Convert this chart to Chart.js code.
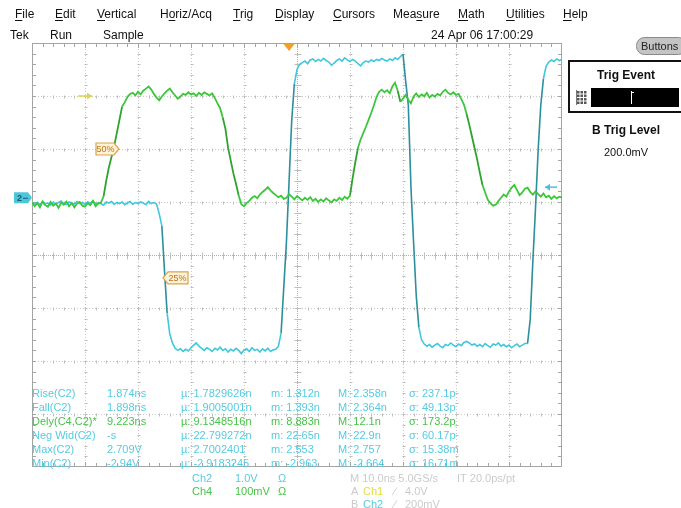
<!DOCTYPE html>
<html><head><meta charset="utf-8">
<script src="https://cdn.jsdelivr.net/npm/chart.js@4/dist/chart.umd.min.js"></script>
<style>html,body{margin:0;padding:0;background:#fff;overflow:hidden}canvas{display:block}</style>
</head><body>
<canvas id="scope" width="681" height="508"></canvas>
<script>
// Acquisition record: one sample every 0.5 ns, 10 ns/div over 10 divisions
const sampleInterval = 0.5;   // ns
const timeSpan = 100;         // ns across the graticule
const triggerTime = 48.5;     // ns, trigger position

// Ch2 at 1.0 V/div, in volts
const ch2Volts = [
  -0.08,-0.12,-0.09,-0.13,-0.07,-0.11,-0.10,-0.14,-0.08,-0.12,
  -0.09,-0.06,-0.11,-0.13,-0.08,-0.10,-0.12,-0.07,-0.11,-0.09,
  -0.13,-0.08,-0.10,-0.06,-0.12,-0.09,-0.11,-0.14,-0.08,-0.10,
  -0.07,-0.12,-0.09,-0.11,-0.08,-0.13,-0.10,-0.07,-0.12,-0.09,
  -0.11,-0.08,-0.10,-0.13,-0.07,-0.11,-0.09,-0.12,
  -0.30,-0.53,-1.38,-2.18,-2.57,-2.74,-2.84,
  -2.88,-2.85,-2.90,-2.86,-2.89,-2.83,-2.78,-2.74,-2.80,-2.84,
  -2.88,-2.83,-2.86,-2.90,-2.84,-2.87,-2.82,-2.88,-2.85,-2.91,
  -2.86,-2.89,-2.84,-2.88,-2.94,-2.87,-2.85,-2.90,-2.83,-2.88,
  -2.86,-2.91,-2.85,-2.89,-2.84,-2.90,-2.87,-2.86,
  -2.80,-2.55,-1.70,-0.85,0.30,1.45,2.15,2.42,2.52,
  2.55,2.58,2.53,2.60,2.62,2.57,2.61,2.58,2.63,2.59,
  2.56,2.50,2.54,2.59,2.62,2.58,2.64,2.60,2.57,2.61,
  2.58,2.53,2.49,2.55,2.58,2.56,2.60,2.57,2.61,2.59,
  2.63,2.60,2.58,2.62,2.59,2.64,2.61,2.66,
  2.709,
  2.20,1.75,0.20,-0.85,-1.85,-2.45,-2.68,-2.76,
  -2.80,-2.77,-2.82,-2.78,-2.75,-2.80,-2.83,-2.77,-2.79,-2.74,
  -2.78,-2.81,-2.76,-2.79,-2.73,-2.71,-2.74,-2.78,-2.76,-2.80,
  -2.77,-2.81,-2.75,-2.79,-2.82,-2.76,-2.78,-2.74,-2.80,-2.77,
  -2.81,-2.78,-2.83,-2.79,-2.76,-2.81,-2.78,-2.75,
  -2.75,-2.30,-1.20,-0.20,0.90,1.75,2.25,2.48,2.56,
  2.60,2.57,2.62,2.59,2.61
];

// Ch4 at 100 mV/div, in millivolts
const ch4mV = [
  3,-4,2,-6,5,-2,-5,4,-3,1,
  -7,3,-1,5,-4,2,-6,1,4,-3,
  -5,2,-2,6,-4,1,3,
  14,44,69,89,109,134,159,184,192,202,208,
  210,205,212,207,214,218,222,216,208,201,
  196,203,209,214,218,211,205,199,203,208,
  206,211,207,209,204,210,206,211,208,205,209,
  200,190,181,163,142,106,82,58,38,16,0,-4,
  2,6,12,15,11,18,23,27,32,26,
  21,17,13,16,10,12,19,14,9,15,
  11,7,12,8,13,6,10,4,9,5,
  11,7,3,9,6,12,8,14,10,
  16,49,79,106,122,134,146,159,172,186,202,212,216,
  211,215,209,222,229,214,193,199,206,197,
  190,203,209,202,207,204,210,201,206,203,
  208,205,212,216,210,207,211,206,208,
  198,188,170,150,128,106,84,59,36,22,
  8,2,-3,-1,6,12,18,14,24,31,
  36,27,17,22,29,31,23,18,24,19,
  14,20,13,16,10,15,11,14,12
];

// Channel settings
const ch2PerDiv = 1;        // V/div
const ch4PerDiv = 100;      // mV/div
const ch2GroundDiv = 1.08;  // Ch2 ground, divisions above centre
const ch4GroundDiv = 0.96;  // Ch4 ground, divisions above centre
const ch2TrigLevel = 0.2;   // V, B trigger level
const ch4Ref50 = 104;       // mV, 50% reference level on Ch4
const ch2Ref25 = -1.51;     // V, 25% reference level on Ch2
const ch1LevelDiv = 3.0;    // Ch1 level arrow, divisions above centre

// Measurement readout
const measNames  = ['Rise(C2)', 'Fall(C2)', 'Dely(C4,C2)*', 'Neg Wid(C2)', 'Max(C2)', 'Min(C2)'];
const measValues = ['1.874ns', '1.898ns', '9.223ns', '-s', '2.709V', '-2.94V'];
const measMean   = ['\u00b5: 1.7829626n', '\u00b5: 1.9005001n', '\u00b5: 9.1348516n', '\u00b5: 22.799272n', '\u00b5: 2.7002401', '\u00b5: -2.9183245'];
const measMin    = ['m: 1.312n', 'm: 1.393n', 'm: 8.883n', 'm: 22.65n', 'm: 2.553', 'm: -2.963'];
const measMax    = ['M: 2.358n', 'M: 2.364n', 'M: 12.1n', 'M: 22.9n', 'M: 2.757', 'M: -2.664'];
const measSigma  = ['\u03c3: 237.1p', '\u03c3: 49.13p', '\u03c3: 173.2p', '\u03c3: 60.17p', '\u03c3: 15.38m', '\u03c3: 16.71m'];
const measColors = ['cyan', 'cyan', 'green', 'cyan', 'cyan', 'cyan'];

const menuItems = ['File', 'Edit', 'Vertical', 'Horiz/Acq', 'Trig', 'Display', 'Cursors', 'Measure', 'Math', 'Utilities', 'Help'];
const menuKeys  = [0, 0, 0, 1, 0, 0, 0, 3, 0, 0, 0];
const timestamp = '24 Apr 06 17:00:29';

const FONT = '"Liberation Sans", Arial, sans-serif';
const CYAN = '#3fc8dc', CYAN_EDGE = '#2c8f9e';
const GREEN = '#3cc63a', GREEN_EDGE = '#2ea32e';
const TXT_CYAN = '#55cbe2', TXT_GREEN = '#48c248';

function toPoints(values) {
  return values.map((v, i) => ({ x: i * sampleInterval, y: v }));
}

function seg(ctx, c) { ctx.beginPath(); ctx.moveTo(c[0], c[1]); ctx.lineTo(c[2], c[3]); ctx.stroke(); }

function drawGraticule(chart) {
  const c = chart.ctx, a = chart.chartArea, xs = chart.scales.x, yd = chart.scales.yDiv;
  const xp = d => Math.round(xs.getPixelForValue(d * timeSpan / 10)) + 0.5;
  const yp = d => Math.round(yd.getPixelForValue(d)) + 0.5;
  c.save();
  c.lineWidth = 1;
  // dotted division lines
  c.strokeStyle = '#c9c9c9';
  c.setLineDash([1, 2]);
  for (let i = 1; i < 10; i++) if (i !== 5) seg(c, [xp(i), a.top, xp(i), a.bottom]);
  for (let j = -3; j <= 3; j++) if (j !== 0) seg(c, [a.left, yp(j), a.right, yp(j)]);
  // centre crosshair
  c.strokeStyle = '#b0b0b0';
  c.setLineDash([1, 1]);
  seg(c, [xp(5), a.top, xp(5), a.bottom]);
  seg(c, [a.left, yp(0), a.right, yp(0)]);
  c.setLineDash([]);
  // minor marks along division lines
  c.strokeStyle = '#bdbdbd';
  for (let i = 1; i < 10; i++) {
    const L = i === 5 ? 3 : 1;
    for (let m = -19; m <= 19; m++) { const y = yp(m / 5); seg(c, [xp(i) - L, y, xp(i) + L + 1, y]); }
  }
  for (let j = -3; j <= 3; j++) {
    const L = j === 0 ? 3 : 1;
    for (let m = 1; m < 50; m++) { const x = xp(m / 5); seg(c, [x, yp(j) - L, x, yp(j) + L + 1]); }
  }
  // frame with edge ticks
  c.strokeStyle = '#a4a4a4';
  c.strokeRect(a.left + 0.5, a.top + 0.5, a.right - a.left - 1, a.bottom - a.top - 1);
  for (let m = 1; m < 50; m++) {
    const x = xp(m / 5), L = m % 5 === 0 ? 5 : 4;
    seg(c, [x, a.top, x, a.top + L]);
    seg(c, [x, a.bottom - L, x, a.bottom]);
  }
  for (let m = -19; m <= 19; m++) {
    const y = yp(m / 5);
    seg(c, [a.left, y, a.left + 4, y]);
    seg(c, [a.right - 4, y, a.right, y]);
  }
  c.restore();
}

function tag(c, x, y, w, h, pointRight, label) {
  c.save();
  c.beginPath();
  if (pointRight) {
    c.moveTo(x, y - h / 2); c.lineTo(x + w - 5, y - h / 2); c.lineTo(x + w, y);
    c.lineTo(x + w - 5, y + h / 2); c.lineTo(x, y + h / 2);
  } else {
    c.moveTo(x + w, y - h / 2); c.lineTo(x + 5, y - h / 2); c.lineTo(x, y);
    c.lineTo(x + 5, y + h / 2); c.lineTo(x + w, y + h / 2);
  }
  c.closePath();
  c.fillStyle = '#fff2d6'; c.fill();
  c.strokeStyle = '#d9a24e'; c.lineWidth = 1.2; c.stroke();
  c.fillStyle = '#b8741c'; c.font = '9px ' + FONT; c.textBaseline = 'middle';
  c.textAlign = 'center';
  c.fillText(label, pointRight ? x + (w - 4) / 2 : x + 4 + (w - 4) / 2, y + 0.5);
  c.restore();
}

function arrow(c, x0, x1, y, color) {
  c.save();
  c.strokeStyle = color; c.fillStyle = color; c.lineWidth = 1.5;
  seg(c, [x0, y, x1, y]);
  const d = x1 > x0 ? -1 : 1;
  c.beginPath(); c.moveTo(x1, y); c.lineTo(x1 + d * 5, y - 3.5); c.lineTo(x1 + d * 5, y + 3.5); c.closePath(); c.fill();
  c.restore();
}

function drawMarkers(chart) {
  const c = chart.ctx, a = chart.chartArea, xs = chart.scales.x;
  const y2 = chart.scales.y2, y4 = chart.scales.y4, yd = chart.scales.yDiv;
  // trigger position
  const tx = xs.getPixelForValue(triggerTime);
  c.save();
  c.fillStyle = '#f0a028';
  c.beginPath(); c.moveTo(tx - 5.5, a.top + 1); c.lineTo(tx + 5.5, a.top + 1); c.lineTo(tx, a.top + 8); c.closePath(); c.fill();
  c.restore();
  // Ch1 level arrow
  arrow(c, 78, 92, yd.getPixelForValue(ch1LevelDiv), '#e2d44a');
  // reference level tags
  tag(c, 96, y4.getPixelForValue(ch4Ref50), 23, 12, true, '50%');
  tag(c, 163, y2.getPixelForValue(ch2Ref25), 25, 12, false, '25%');
  // B trigger level arrow on Ch2
  arrow(c, 557, 545, y2.getPixelForValue(ch2TrigLevel), '#4cc0e4');
  // Ch2 ground marker
  const gy = y2.getPixelForValue(0);
  c.save();
  c.fillStyle = '#4cc6da';
  c.beginPath(); c.moveTo(14, gy - 5.5); c.lineTo(28, gy - 5.5); c.lineTo(32, gy); c.lineTo(28, gy + 5.5); c.lineTo(14, gy + 5.5); c.closePath(); c.fill();
  c.fillStyle = '#1b5c68'; c.font = 'bold 9px ' + FONT; c.textBaseline = 'middle'; c.textAlign = 'left';
  c.fillText('2', 17, gy + 0.5);
  c.strokeStyle = '#1b5c68'; c.lineWidth = 1;
  seg(c, [23, gy + 0.5, 28, gy + 0.5]);
  c.restore();
}

function drawReadouts(chart) {
  const c = chart.ctx;
  c.save();
  c.font = '11px ' + FONT; c.textBaseline = 'middle'; c.textAlign = 'left';
  const cols = [32, 107, 181, 271, 338, 409];
  for (let r = 0; r < measNames.length; r++) {
    const y = 394 + r * 14;
    c.fillStyle = measColors[r] === 'green' ? TXT_GREEN : TXT_CYAN;
    [measNames[r], measValues[r], measMean[r], measMin[r], measMax[r], measSigma[r]]
      .forEach((s, k) => c.fillText(s, cols[k], y));
  }
  // channel scale readouts
  c.fillStyle = TXT_CYAN;
  c.fillText('Ch2', 192, 479); c.fillText('1.0V', 235, 479); c.fillText('\u03a9', 278, 479);
  c.fillStyle = TXT_GREEN;
  c.fillText('Ch4', 192, 492); c.fillText('100mV', 235, 492); c.fillText('\u03a9', 278, 492);
  // timebase and trigger readouts
  c.fillStyle = '#cbcbcb';
  c.fillText('M 10.0ns 5.0GS/s', 350, 479);
  c.fillText('IT 20.0ps/pt', 457, 479);
  c.fillText('A', 351, 492); c.fillText('\u2215', 394, 492); c.fillText('4.0V', 405, 492);
  c.fillText('B', 351, 505); c.fillText('\u2215', 394, 505); c.fillText('200mV', 405, 505);
  c.fillStyle = '#e4dc3c'; c.fillText('Ch1', 363, 492);
  c.fillStyle = TXT_CYAN; c.fillText('Ch2', 363, 505);
  c.restore();
}

function drawMenus(chart) {
  const c = chart.ctx;
  c.save();
  c.font = '12px ' + FONT; c.textBaseline = 'alphabetic'; c.textAlign = 'left';
  c.fillStyle = '#111'; c.strokeStyle = '#111'; c.lineWidth = 1;
  const xs = [15, 55, 97, 160, 233, 275, 333, 393, 458, 506, 563];
  menuItems.forEach((m, i) => {
    c.fillText(m, xs[i], 18);
    const k = menuKeys[i];
    const x0 = xs[i] + c.measureText(m.slice(0, k)).width;
    const w = c.measureText(m[k]).width;
    seg(c, [x0, 20.5, x0 + w, 20.5]);
  });
  c.fillText('Tek', 10, 39);
  c.fillText('Run', 50, 39);
  c.fillText('Sample', 103, 39);
  c.fillText(timestamp, 431, 39);
  c.restore();
}

function drawSidePanel(chart) {
  const c = chart.ctx;
  c.save();
  // Buttons pill
  c.fillStyle = '#c4c4c4'; c.strokeStyle = '#8a8a8a'; c.lineWidth = 1;
  c.beginPath(); c.roundRect(636.5, 37.5, 50, 17, 8); c.fill(); c.stroke();
  c.fillStyle = '#222'; c.font = '11px ' + FONT; c.textAlign = 'left'; c.textBaseline = 'middle';
  c.fillText('Buttons', 641, 46.5);
  // Trig Event box
  c.strokeStyle = '#111'; c.lineWidth = 2;
  c.strokeRect(569, 61, 116, 51);
  c.fillStyle = '#111'; c.font = 'bold 12px ' + FONT; c.textAlign = 'center';
  c.fillText('Trig Event', 626, 76);
  c.fillStyle = '#000'; c.fillRect(591, 88, 88, 19);
  // keypad icon
  c.fillStyle = '#555';
  for (let r = 0; r < 4; r++) for (let k = 0; k < 3; k++) c.fillRect(577 + k * 3.5, 91 + r * 3.5, 2.5, 2.5);
  c.fillStyle = '#777'; c.fillRect(576, 90, 1, 15);
  // text cursor
  c.strokeStyle = '#fff'; c.lineWidth = 1;
  seg(c, [631.5, 91, 631.5, 104]);
  seg(c, [631.5, 92.5, 634, 92.5]);
  // B trigger level
  c.fillStyle = '#111'; c.font = 'bold 12px ' + FONT;
  c.fillText('B Trig Level', 626, 131);
  c.font = '11px ' + FONT;
  c.fillText('200.0mV', 626, 153);
  c.restore();
}

const scopeScreen = {
  id: 'scopeScreen',
  beforeDraw(chart) {
    const c = chart.ctx;
    c.save(); c.fillStyle = '#fff'; c.fillRect(0, 0, chart.width, chart.height); c.restore();
  },
  beforeDatasetsDraw(chart) { drawGraticule(chart); },
  afterDraw(chart) {
    drawMarkers(chart);
    drawReadouts(chart);
    drawMenus(chart);
    drawSidePanel(chart);
  }
};

const steep = (limit, edge, flat) => ctx =>
  Math.abs(ctx.p1.parsed.y - ctx.p0.parsed.y) > limit ? edge : flat;

new Chart(document.getElementById('scope'), {
  type: 'line',
  data: {
    datasets: [
      {
        label: 'Ch4', data: toPoints(ch4mV), yAxisID: 'y4',
        borderColor: GREEN, borderWidth: 1.8, pointRadius: 0, tension: 0,
        segment: { borderColor: steep(18, GREEN_EDGE, GREEN) }
      },
      {
        label: 'Ch2', data: toPoints(ch2Volts), yAxisID: 'y2',
        borderColor: CYAN, borderWidth: 1.6, pointRadius: 0, tension: 0,
        segment: { borderColor: steep(0.45, CYAN_EDGE, CYAN) }
      }
    ]
  },
  options: {
    responsive: false, animation: false, devicePixelRatio: 1,
    layout: { padding: { left: 32, right: 119, top: 43, bottom: 41 } },
    plugins: { legend: { display: false }, tooltip: { enabled: false } },
    scales: {
      x: { type: 'linear', min: 0, max: timeSpan, display: false },
      y2: { type: 'linear', min: (-4 - ch2GroundDiv) * ch2PerDiv, max: (4 - ch2GroundDiv) * ch2PerDiv, display: false },
      y4: { type: 'linear', min: (-4 - ch4GroundDiv) * ch4PerDiv, max: (4 - ch4GroundDiv) * ch4PerDiv, display: false },
      yDiv: { type: 'linear', min: -4, max: 4, display: false }
    }
  },
  plugins: [scopeScreen]
});
</script>
</body></html>
